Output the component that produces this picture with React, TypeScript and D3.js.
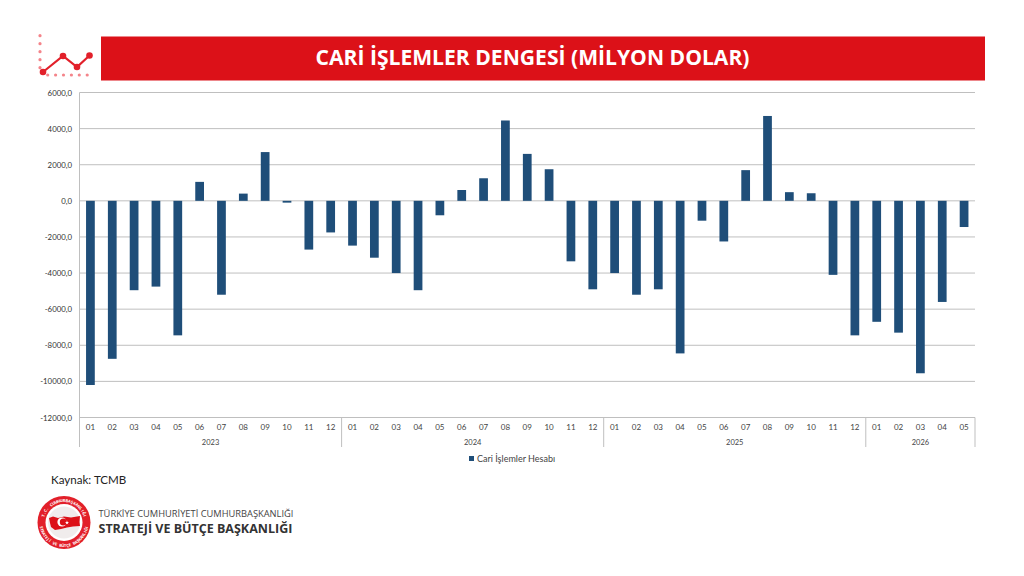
import * as d3 from "d3";

const years = ["2023", "2024", "2025", "2026"];
const monthsPerYear = [12, 12, 12, 5];
const months = [
  "01", "02", "03", "04", "05", "06", "07", "08", "09", "10", "11", "12",
  "01", "02", "03", "04", "05", "06", "07", "08", "09", "10", "11", "12",
  "01", "02", "03", "04", "05", "06", "07", "08", "09", "10", "11", "12",
  "01", "02", "03", "04", "05",
];
const values = [
  -10200, -8750, -4950, -4750, -7450, 1050, -5200, 400, 2700, -100, -2700, -1750,
  -2480, -3150, -4000, -4950, -800, 600, 1250, 4450, 2600, 1750, -3350, -4900,
  -4000, -5200, -4900, -8450, -1100, -2250, 1700, 4700, 480, 420, -4100, -7450,
  -6700, -7300, -9550, -5600, -1450,
];
const yTicks = [6000, 4000, 2000, 0, -2000, -4000, -6000, -8000, -10000, -12000];
const title = "CARİ İŞLEMLER DENGESİ (MİLYON DOLAR)";
const seriesName = "Cari İşlemler Hesabı";
const logoTop = "T.C. CUMHURBAŞKANLIĞI";
const logoBottom = "STRATEJİ VE BÜTÇE BAŞKANLIĞI";

const iconLine: [number, number][] = [[0, 0], [20, 16], [34, 5], [46.5, 16.5]];
const iconDotsY = [0, 1, 2, 3, 4];
const iconDotsX = [0, 1, 2, 3, 4, 5];

const width = 1024;
const height = 576;
const left = 79.5;
const right = 975;
const top = 92.5;
const bottom = 417.5;
const axisFont = "Lato, 'Open Sans', sans-serif";
const headFont = "'Open Sans', 'Noto Sans', sans-serif";
const logoX = 64;
const logoY = 522.5;

// one small text per letter, turned around the seal
function ArcText({ label, radius, startDeg, endDeg }: { label: string; radius: number; startDeg: number; endDeg: number }) {
  const angle = d3.scaleLinear().domain([0, label.length - 1]).range([startDeg, endDeg]);
  const bottomHalf = startDeg > endDeg;
  return (
    <g>
      {label.split("").map((ch, i) => {
        const a = angle(i);
        const rad = (a * Math.PI) / 180;
        const px = logoX + radius * Math.sin(rad);
        const py = logoY - radius * Math.cos(rad);
        return (
          <text
            key={i}
            textAnchor="middle"
            fontFamily={headFont}
            fontWeight={700}
            fontSize={4}
            fill="#fff"
            transform={`translate(${px},${py}) rotate(${bottomHalf ? a - 180 : a})`}
          >
            {ch}
          </text>
        );
      })}
    </g>
  );
}

export default function App() {
  const x = d3.scaleBand<number>().domain(d3.range(values.length)).range([left, right]).paddingInner(0.6).paddingOuter(0.3);
  const y = d3.scaleLinear().domain([-12000, 6000]).range([bottom, top]);
  const step = x.step();
  const iconPath = d3.line<[number, number]>().x((d) => 43 + d[0]).y((d) => 72 - d[1])(iconLine) ?? "";

  // group separators under the axis
  let count = 0;
  const groups = years.map((year, i) => {
    const start = left + count * step;
    count += monthsPerYear[i];
    return { year, start, end: left + count * step };
  });

  return (
    <svg width={width} height={height} viewBox={`0 0 ${width} ${height}`} style={{ position: "absolute", left: 0, top: 0, background: "#fff" }}>
      <rect x={101} y={36.5} width={884} height={44} fill="#dc1118" />
      <text x={532.5} y={65} textAnchor="middle" fill="#fff" fontFamily={headFont} fontWeight={700} fontSize={21.1}>
        {title}
      </text>

      {iconDotsY.map((d) => (
        <circle key={d} cx={40} cy={35.7 + d * 8} r={1.6} fill="#f4848a" />
      ))}
      {iconDotsX.map((d) => (
        <circle key={d} cx={47.7 + d * 7.9} cy={75} r={1.6} fill="#f4848a" />
      ))}
      <path d={iconPath} fill="none" stroke="#e2202a" strokeWidth={2.2} />
      {iconLine.map((d) => (
        <circle key={d[0]} cx={43 + d[0]} cy={72 - d[1]} r={3.3} fill="#e2202a" />
      ))}

      {yTicks.map((t) => (
        <g key={t}>
          <line x1={left} x2={right} y1={y(t)} y2={y(t)} stroke="#bfbfbf" strokeWidth={1} />
          <text x={72} y={y(t) + 3} textAnchor="end" fontFamily={axisFont} fontSize={7.8} fill="#333">
            {`${t},0`}
          </text>
        </g>
      ))}
      <line x1={left} x2={left} y1={top} y2={447} stroke="#bfbfbf" />
      {groups.map((g) => (
        <g key={g.year}>
          <line x1={g.end} x2={g.end} y1={bottom} y2={447} stroke="#bfbfbf" />
          <text x={(g.start + g.end) / 2} y={445} textAnchor="middle" fontFamily={axisFont} fontSize={7.5} fill="#444">
            {g.year}
          </text>
        </g>
      ))}

      {values.map((v, i) => (
        <rect
          key={i}
          x={x(i)}
          y={y(Math.max(v, 0))}
          width={x.bandwidth()}
          height={Math.abs(y(v) - y(0))}
          fill="#1f4e79"
        />
      ))}
      {months.map((m, i) => (
        <text key={i} x={(x(i) ?? 0) + x.bandwidth() / 2} y={430} textAnchor="middle" fontFamily={axisFont} fontSize={8} fill="#444">
          {m}
        </text>
      ))}

      <rect x={469} y={456} width={5} height={5} fill="#1f4e79" />
      <text x={477} y={461.5} fontFamily={axisFont} fontSize={9} fill="#444">
        {seriesName}
      </text>

      <text x={51} y={484} fontFamily={axisFont} fontSize={11.6} fill="#222">
        Kaynak: TCMB
      </text>

      <circle cx={logoX} cy={logoY} r={26.5} fill="#e2202a" />
      <circle cx={logoX} cy={logoY} r={18.5} fill="#fff" />
      <circle cx={logoX} cy={logoY} r={16} fill="#f0ecec" />
      <path
        d="M49 518 L53 516.5 L58 518 L64 516.5 L71 517.5 L80 516 L79.5 522 L80 526 L73 526.5 L67 527.5 L61 529 L55 530 L51 527 L50 523 Z"
        fill="#dc1118"
      />
      <circle cx={62} cy={522} r={4.6} fill="#fff" />
      <circle cx={63.4} cy={522} r={3.6} fill="#dc1118" />
      <path d="M67 520.5 L67.5 522 L69 522 L67.8 523 L68.3 524.5 L67 523.6 L65.8 524.5 L66.2 523 L65 522 L66.5 522 Z" fill="#fff" />
      <ArcText label={logoTop} radius={20.5} startDeg={-72} endDeg={72} />
      <ArcText label={logoBottom} radius={24.5} startDeg={258} endDeg={102} />

      <text x={98.5} y={517} fontFamily={headFont} fontSize={9.3} fill="#444">
        TÜRKİYE CUMHURİYETİ CUMHURBAŞKANLIĞI
      </text>
      <text x={98.5} y={533} fontFamily={headFont} fontWeight={700} fontSize={12.5} fill="#333">
        STRATEJİ VE BÜTÇE BAŞKANLIĞI
      </text>
    </svg>
  );
}
